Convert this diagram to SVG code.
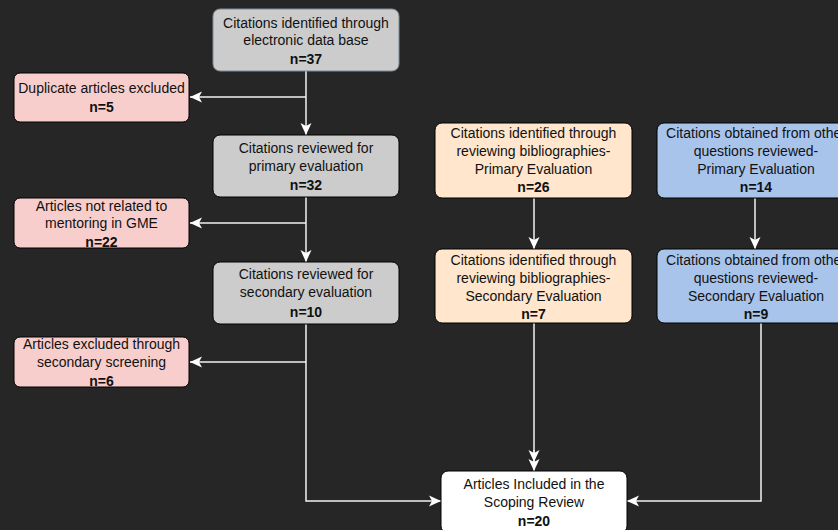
<svg xmlns="http://www.w3.org/2000/svg" width="838" height="530" viewBox="0 0 838 530">
<defs>
<style>
.bg{fill:#262626}
.box{stroke:#000;stroke-width:1}
.gray{fill:#cccccc}
.pink{fill:#f8cecc}
.peach{fill:#ffe6cc}
.blue{fill:#a9c4eb}
.white{fill:#ffffff}
text{font-family:"Liberation Sans",Arial,Helvetica,sans-serif;font-size:14px;fill:#111;text-anchor:middle}
.b{font-weight:bold}
.c{fill:none;stroke:#f2f2f2;stroke-width:1.5}
</style>
<marker id="ah" markerUnits="userSpaceOnUse" markerWidth="14" markerHeight="14" viewBox="0 0 14 14" refX="13" refY="7" orient="auto">
<path d="M1,1.5 L13,7 L1,12.5 L4,7 Z" fill="#ffffff"/>
</marker>
</defs>
<rect class="bg" x="0" y="0" width="838" height="530"/>
<g id="connectors">
<path class="c" d="M306,71 V135" marker-end="url(#ah)"/>
<path class="c" d="M306,97 H190" marker-end="url(#ah)"/>
<path class="c" d="M306,197 V262" marker-end="url(#ah)"/>
<path class="c" d="M306,223 H190" marker-end="url(#ah)"/>
<path class="c" d="M306,324 V501 H441" marker-end="url(#ah)"/>
<path class="c" d="M306,362 H190" marker-end="url(#ah)"/>
<path class="c" d="M534,198 V249" marker-end="url(#ah)"/>
<path class="c" d="M755,198 V249" marker-end="url(#ah)"/>
<path class="c" d="M534,323 V471" marker-end="url(#ah)"/>
<path class="c" d="M534,450 V462" marker-end="url(#ah)"/>
<path class="c" d="M761,323 V501 H627" marker-end="url(#ah)"/>
</g>
<g id="n1">
<rect class="gray" x="213" y="9" width="186" height="62" rx="7" stroke="#7d8a96" stroke-width="1"/>
<text x="306" y="28">Citations identified through</text>
<text x="306" y="45">electronic data base</text>
<text class="b" x="306" y="64">n=37</text>
</g>
<g id="n2">
<rect class="box pink" x="14" y="73" width="175" height="49" rx="6"/>
<text x="101.5" y="93">Duplicate articles excluded</text>
<text class="b" x="101.5" y="112">n=5</text>
</g>
<g id="n3">
<rect class="box gray" x="213" y="135" width="186" height="62" rx="7"/>
<text x="306" y="153">Citations reviewed for</text>
<text x="306" y="171">primary evaluation</text>
<text class="b" x="306" y="190">n=32</text>
</g>
<g id="n4">
<rect class="box pink" x="14" y="198" width="175" height="50" rx="6"/>
<text x="101.5" y="211">Articles not related to</text>
<text x="101.5" y="228">mentoring in GME</text>
<text class="b" x="101.5" y="247">n=22</text>
</g>
<g id="n5">
<rect class="box gray" x="213" y="262" width="186" height="62" rx="7"/>
<text x="306" y="279">Citations reviewed for</text>
<text x="306" y="297">secondary evaluation</text>
<text class="b" x="306" y="317">n=10</text>
</g>
<g id="n6">
<rect class="box pink" x="14" y="337" width="175" height="50" rx="6"/>
<text x="101.5" y="349">Articles excluded through</text>
<text x="101.5" y="367">secondary screening</text>
<text class="b" x="101.5" y="386">n=6</text>
</g>
<g id="n7">
<rect class="box peach" x="435" y="123" width="197" height="75" rx="7"/>
<text x="533.5" y="138">Citations identified through</text>
<text x="533.5" y="156">reviewing bibliographies-</text>
<text x="533.5" y="174">Primary Evaluation</text>
<text class="b" x="533.5" y="192">n=26</text>
</g>
<g id="n8">
<rect class="box peach" x="435" y="249" width="197" height="74" rx="7"/>
<text x="533.5" y="265">Citations identified through</text>
<text x="533.5" y="283">reviewing bibliographies-</text>
<text x="533.5" y="301">Secondary Evaluation</text>
<text class="b" x="533.5" y="319">n=7</text>
</g>
<g id="n9">
<rect class="box blue" x="657" y="123" width="198" height="75" rx="7"/>
<text x="756" y="138">Citations obtained from other</text>
<text x="756" y="156">questions reviewed-</text>
<text x="756" y="174">Primary Evaluation</text>
<text class="b" x="756" y="192">n=14</text>
</g>
<g id="n10">
<rect class="box blue" x="657" y="249" width="198" height="74" rx="7"/>
<text x="756" y="265">Citations obtained from other</text>
<text x="756" y="283">questions reviewed-</text>
<text x="756" y="301">Secondary Evaluation</text>
<text class="b" x="756" y="319">n=9</text>
</g>
<g id="n11">
<rect class="box white" x="441" y="471" width="186" height="62" rx="7"/>
<text x="534" y="489">Articles Included in the</text>
<text x="534" y="507">Scoping Review</text>
<text class="b" x="534" y="526">n=20</text>
</g>
</svg>
